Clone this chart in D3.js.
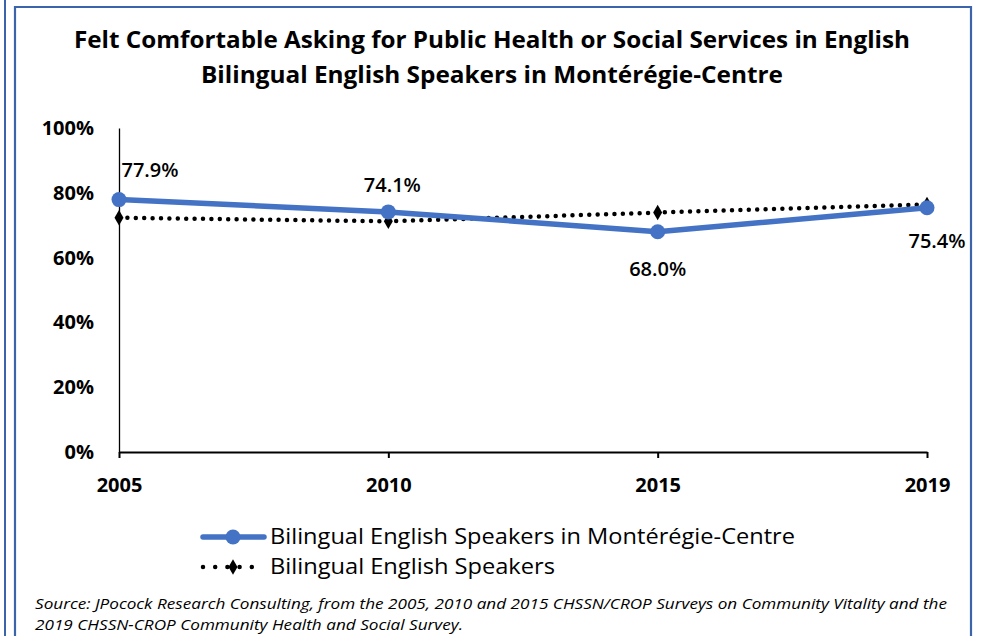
<!DOCTYPE html>
<html>
<head>
<meta charset="utf-8">
<script src="https://cdn.jsdelivr.net/npm/d3@7"></script>
<style>
  body { margin: 0; background: #fff; }
  text { font-family: "Open Sans", "Noto Sans", sans-serif; fill: #000; }
</style>
</head>
<body>
<div class="chart"></div>
<script>
var svgWidth = 984;
var svgHeight = 636;

// data
var years = ['2005', '2010', '2015', '2019'];
var monteregie = [77.9, 74.1, 68.0, 75.4];
var allBilingual = [72.3, 71.2, 73.9, 76.4];
var yTicks = [0, 20, 40, 60, 80, 100];
var seriesNames = ['Bilingual English Speakers in Montérégie-Centre', 'Bilingual English Speakers'];
var titleLines = [
  'Felt Comfortable Asking for Public Health or Social Services in English',
  'Bilingual English Speakers in Montérégie-Centre'
];
var sourceLines = [
  'Source: JPocock Research Consulting, from the 2005, 2010  and 2015  CHSSN/CROP Surveys on Community Vitality and the',
  '2019  CHSSN-CROP Community Health and Social Survey.'
];

var blue = '#4472c4';
var frame = '#3c64aa';

var svg = d3.select('.chart')
  .append('svg')
  .attr('width', svgWidth)
  .attr('height', svgHeight);

// frame lines (neighbouring box edge + chart box)
svg.append('line').attr('x1', 5).attr('x2', 5).attr('y1', 0).attr('y2', svgHeight)
  .attr('stroke', frame).attr('stroke-width', 2);
svg.append('path')
  .attr('d', 'M15,' + svgHeight + ' V7 H971 V' + svgHeight)
  .attr('fill', 'none').attr('stroke', frame).attr('stroke-width', 2.2);

// title
svg.selectAll('.title')
  .data(titleLines)
  .enter()
  .append('text')
  .attr('class', 'title')
  .attr('x', 492)
  .attr('y', function(d, i) { return 48 + i * 35; })
  .attr('text-anchor', 'middle')
  .attr('font-size', 24)
  .attr('font-weight', 'bold')
  .attr('textLength', function(d, i) { return i === 0 ? 836 : 582; })
  .attr('lengthAdjust', 'spacingAndGlyphs')
  .text(function(d) { return d; });

// scales
var x = d3.scalePoint().domain(years).range([119, 927]);
var y = d3.scaleLinear().domain([0, 100]).range([452, 128]);

// y axis
var leftAxis = d3.axisLeft(y).tickValues(yTicks).tickSize(0).tickPadding(25)
  .tickFormat(function(d) { return d + '%'; });
var gy = svg.append('g').attr('transform', 'translate(119,0)').call(leftAxis);
gy.select('.domain').attr('stroke', '#000').attr('stroke-width', 1.3);
gy.selectAll('text').attr('font-size', 20).attr('font-weight', 'bold')
  .attr('font-family', '"Open Sans", sans-serif').attr('fill', '#000');

// x axis
var bottomAxis = d3.axisBottom(x).tickSizeInner(6).tickSizeOuter(0).tickPadding(20);
var gx = svg.append('g').attr('transform', 'translate(0,452)').call(bottomAxis);
gx.select('.domain').attr('stroke', '#000').attr('stroke-width', 2);
gx.selectAll('.tick line').attr('stroke', '#000').attr('stroke-width', 2);
gx.selectAll('text').attr('font-size', 20).attr('font-weight', 'bold')
  .attr('font-family', '"Open Sans", sans-serif').attr('fill', '#000');

// dotted series
var line = d3.line()
  .x(function(d, i) { return x(years[i]); })
  .y(function(d) { return y(d); });

svg.append('path')
  .datum(allBilingual)
  .attr('d', line)
  .attr('fill', 'none')
  .attr('stroke', '#000')
  .attr('stroke-width', 4.5)
  .attr('stroke-linecap', 'round')
  .attr('stroke-dasharray', '0,8.4');

var diamond = d3.symbol().type(d3.symbolDiamond).size(70);
svg.selectAll('.dia')
  .data(allBilingual)
  .enter()
  .append('path')
  .attr('class', 'dia')
  .attr('d', diamond)
  .attr('transform', function(d, i) { return 'translate(' + x(years[i]) + ',' + y(d) + ')'; })
  .attr('fill', '#000');

// blue series
svg.append('path')
  .datum(monteregie)
  .attr('d', line)
  .attr('fill', 'none')
  .attr('stroke', blue)
  .attr('stroke-width', 5.5)
  .attr('stroke-linejoin', 'round');

svg.selectAll('.dot')
  .data(monteregie)
  .enter()
  .append('circle')
  .attr('class', 'dot')
  .attr('cx', function(d, i) { return x(years[i]); })
  .attr('cy', function(d) { return y(d); })
  .attr('r', 7.5)
  .attr('fill', blue);

// data labels: offsets relative to each point
var labelOffsets = [[31, -23], [4, -20], [0, 44], [10, 40]];
svg.selectAll('.lbl')
  .data(monteregie)
  .enter()
  .append('text')
  .attr('class', 'lbl')
  .attr('x', function(d, i) { return x(years[i]) + labelOffsets[i][0]; })
  .attr('y', function(d, i) { return y(d) + labelOffsets[i][1]; })
  .attr('text-anchor', 'middle')
  .attr('font-size', 20)
  .attr('font-weight', 600)
  .text(function(d) { return d.toFixed(1) + '%'; });

// legend
var legend = svg.append('g');
legend.append('line').attr('x1', 203).attr('x2', 264).attr('y1', 537).attr('y2', 537)
  .attr('stroke', blue).attr('stroke-width', 5.5).attr('stroke-linecap', 'round');
legend.append('circle').attr('cx', 233).attr('cy', 537).attr('r', 7.5).attr('fill', blue);
legend.append('line').attr('x1', 203).attr('x2', 264).attr('y1', 567).attr('y2', 567)
  .attr('stroke', '#000').attr('stroke-width', 4.5).attr('stroke-linecap', 'round')
  .attr('stroke-dasharray', '0,12.2');
legend.append('path').attr('d', diamond)
  .attr('transform', 'translate(233,567)').attr('fill', '#000');

legend.selectAll('text')
  .data(seriesNames)
  .enter()
  .append('text')
  .attr('x', 270)
  .attr('y', function(d, i) { return 544 + i * 30; })
  .attr('font-size', 21)
  .attr('textLength', function(d, i) { return i === 0 ? 525 : 285; })
  .attr('lengthAdjust', 'spacingAndGlyphs')
  .text(function(d) { return d; });

// source note
svg.selectAll('.src')
  .data(sourceLines)
  .enter()
  .append('text')
  .attr('class', 'src')
  .attr('x', 35)
  .attr('y', function(d, i) { return 609 + i * 21; })
  .attr('font-size', 14.5)
  .attr('font-style', 'italic')
  .attr('textLength', function(d, i) { return i === 0 ? 912 : 428; })
  .attr('lengthAdjust', 'spacingAndGlyphs')
  .text(function(d) { return d; });
</script>
</body>
</html>
